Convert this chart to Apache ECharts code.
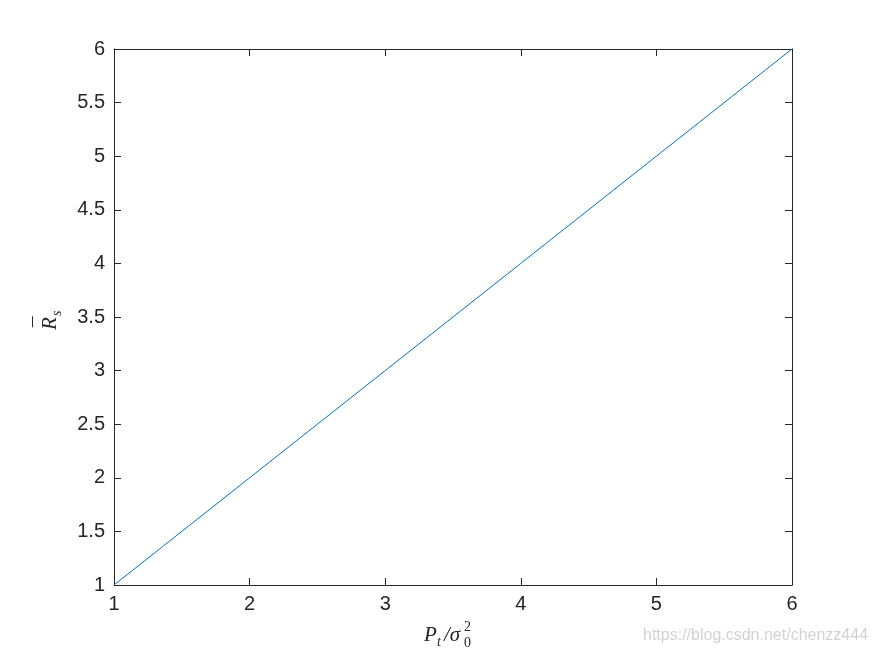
<!DOCTYPE html>
<html>
<head>
    <meta charset="UTF-8">
    <title>Rs vs Pt/sigma0^2</title>
    <style>
        html, body { margin: 0; padding: 0; background: #fff; }
        #main { width: 875px; height: 656px; }
    </style>
</head>
<body>
<div id="main"></div>
<script src="https://cdn.jsdelivr.net/npm/echarts@6/dist/echarts.min.js"></script>
<script>
    // 数据
    var xVals = [1, 2, 3, 4, 5, 6];
    var rsVals = [1, 2, 3, 4, 5, 6];
    var xTicks = [1, 2, 3, 4, 5, 6];
    var yTicks = [1, 1.5, 2, 2.5, 3, 3.5, 4, 4.5, 5, 5.5, 6];

    var axisColor = '#262626';
    var lineColor = '#0072BD';
    var tickFont = 'Arial, "Liberation Sans", sans-serif';
    var mathFont = '"Liberation Serif", "DejaVu Serif", serif';

    var points = [];
    for (var i = 0; i < xVals.length; i++) {
        points.push([xVals[i], rsVals[i]]);
    }

    function baseAxis(pos, ticks, showLabel, isX) {
        return {
            type: 'value',
            position: pos,
            min: ticks[0],
            max: ticks[ticks.length - 1],
            interval: ticks[1] - ticks[0],
            axisLine: { show: true, onZero: false, lineStyle: { color: axisColor, width: 1 } },
            axisTick: { show: true, inside: true, length: 7, lineStyle: { color: axisColor, width: 1 } },
            axisLabel: {
                show: showLabel,
                color: axisColor,
                fontFamily: tickFont,
                fontSize: 20,
                margin: isX ? 9 : 9
            },
            splitLine: { show: false }
        };
    }

    var myChart = echarts.init(document.getElementById('main'));

    var option = {
        backgroundColor: '#ffffff',
        animation: false,
        grid: { left: 114, right: 83, top: 49, bottom: 71, containLabel: false },
        xAxis: [
            baseAxis('bottom', xTicks, true, true),
            baseAxis('top', xTicks, false, true)
        ],
        yAxis: [
            baseAxis('left', yTicks, true, false),
            baseAxis('right', yTicks, false, false)
        ],
        series: [{
            type: 'line',
            data: points,
            xAxisIndex: 0,
            yAxisIndex: 0,
            showSymbol: false,
            lineStyle: { color: lineColor, width: 1 }
        }],
        graphic: [
            // x 轴标题 P_t/σ_0^2
            {
                type: 'group', left: 424, top: 620,
                children: [
                    { type: 'text', x: 0, y: 0, style: { text: 'P', font: 'italic 21px ' + mathFont, fill: axisColor } },
                    { type: 'text', x: 13, y: 10, style: { text: 't', font: 'italic 14px ' + mathFont, fill: axisColor } },
                    { type: 'text', x: 20, y: 0, style: { text: '/σ', font: 'italic 21px ' + mathFont, fill: axisColor } },
                    { type: 'text', x: 40, y: 11, style: { text: '0', font: '14px ' + mathFont, fill: axisColor } },
                    { type: 'text', x: 40, y: -5, style: { text: '2', font: '14px ' + mathFont, fill: axisColor } }
                ]
            },
            // y 轴标题 R̄_s
            {
                type: 'group', x: 40, y: 330, rotation: Math.PI / 2,
                children: [
                    { type: 'text', x: 0, y: 0, style: { text: 'R', font: 'italic 21px ' + mathFont, fill: axisColor } },
                    { type: 'text', x: 3, y: -8, style: { text: '¯', font: '21px ' + mathFont, fill: axisColor } },
                    { type: 'text', x: 14, y: 10, style: { text: 's', font: 'italic 14px ' + mathFont, fill: axisColor } }
                ]
            },
            // 水印
            {
                type: 'text', left: 643, top: 628,
                style: { text: 'https://blog.csdn.net/chenzz444', font: '16px Arial, "Liberation Sans", sans-serif', fill: '#d2d2d2' }
            }
        ]
    };

    myChart.setOption(option);
</script>
</body>
</html>
